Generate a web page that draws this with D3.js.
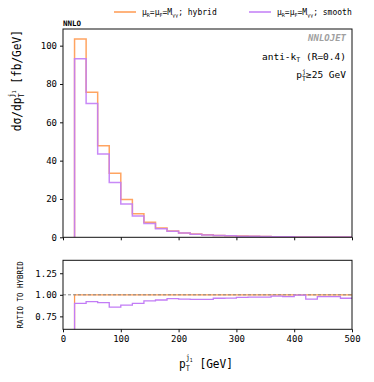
<!DOCTYPE html>
<html>
<head>
<meta charset="utf-8">
<script src="https://cdn.jsdelivr.net/npm/d3@7"></script>
<style>
  body { margin: 0; background: #fff; }
  text { font-family: "DejaVu Sans Mono", monospace; }
</style>
</head>
<body>
<svg id="chart" width="374" height="382"></svg>
<script>
// bin edges in pT [GeV]
const binEdges = [20, 40, 60, 80, 100, 120, 140, 160, 180, 200, 220, 240, 260, 280,
  300, 320, 340, 360, 380, 400, 420, 440, 460, 480, 500];
// dσ/dpT [fb/GeV]
const hybrid = [103.5, 75.7, 47.8, 33.4, 19.7, 12.3, 7.8, 4.8, 3.3, 2.3, 1.7, 1.3,
  1.0, 0.78, 0.62, 0.5, 0.4, 0.32, 0.26, 0.21, 0.17, 0.14, 0.12, 0.1];
const smooth = [93.2, 69.8, 43.5, 28.6, 17.4, 11.1, 7.2, 4.5, 3.15, 2.19, 1.61, 1.23,
  0.96, 0.75, 0.6, 0.49, 0.39, 0.315, 0.255, 0.209, 0.162, 0.137, 0.118, 0.096];
// ratio to hybrid
const ratioHybrid = [1, 1, 1, 1, 1, 1, 1, 1, 1, 1, 1, 1, 1, 1, 1, 1, 1, 1, 1, 1, 1, 1, 1, 1];
const ratioSmooth = [0.90, 0.92, 0.91, 0.856, 0.88, 0.90, 0.93, 0.94, 0.955, 0.95, 0.947, 0.947,
  0.96, 0.962, 0.97, 0.973, 0.973, 0.985, 0.98, 0.996, 0.95, 0.98, 0.98, 0.96];

const xTicks = [0, 100, 200, 300, 400, 500];
const yTicks = [0, 20, 40, 60, 80, 100];
const rTicks = [0.75, 1.00, 1.25];

const orange = "#ff9a50";
const purple = "#c27cf6";

const svg = d3.select("#chart");
const left = 63, right = 352;
const main = { top: 29, bottom: 237.3 };
const rat = { top: 260.3, bottom: 329.3 };

const x = d3.scaleLinear().domain([0, 500]).range([left, right]);
const y = d3.scaleLinear().domain([0, 108.7]).range([main.bottom, main.top]);
const yr = d3.scaleLinear().domain([0.6, 1.4]).range([rat.bottom, rat.top]);

// step path starting from zero at the first edge
function stepPath(vals, ys, base) {
  let p = `M${x(binEdges[0])},${ys(base)}`;
  vals.forEach((v, i) => {
    p += `L${x(binEdges[i])},${ys(v)}L${x(binEdges[i + 1])},${ys(v)}`;
  });
  return p;
}

// clip regions
const defs = svg.append("defs");
defs.append("clipPath").attr("id", "clipMain").append("rect")
  .attr("x", left).attr("y", main.top).attr("width", right - left).attr("height", main.bottom - main.top);
defs.append("clipPath").attr("id", "clipRat").append("rect")
  .attr("x", left).attr("y", rat.top).attr("width", right - left).attr("height", rat.bottom - rat.top);

// main histogram
const gm = svg.append("g").attr("clip-path", "url(#clipMain)");
[[hybrid, orange], [smooth, purple]].forEach(([vals, c]) => {
  gm.append("path").attr("d", stepPath(vals, y, 0))
    .attr("fill", "none").attr("stroke", c).attr("stroke-width", 1.5).attr("stroke-opacity", 0.9);
});

// ratio
const gr = svg.append("g").attr("clip-path", "url(#clipRat)");
gr.append("path").attr("d", stepPath(ratioHybrid, yr, 0))
  .attr("fill", "none").attr("stroke", orange).attr("stroke-width", 1.3);
gr.append("line").attr("x1", left).attr("x2", right).attr("y1", yr(1)).attr("y2", yr(1))
  .attr("stroke", "#888").attr("stroke-width", 1).attr("stroke-dasharray", "3,2");
gr.append("path").attr("d", stepPath(ratioSmooth, yr, 0))
  .attr("fill", "none").attr("stroke", purple).attr("stroke-width", 1.3);

// frames
[main, rat].forEach(p => {
  svg.append("rect").attr("x", left).attr("y", p.top)
    .attr("width", right - left).attr("height", p.bottom - p.top)
    .attr("fill", "none").attr("stroke", "#111").attr("stroke-width", 1);
});

// axes
const axisStyle = g => {
  g.select(".domain").remove();
  g.selectAll("text").style("font-family", "DejaVu Sans Mono").style("font-size", "9px").attr("fill", "#000");
  g.selectAll("line").attr("stroke", "#111");
};
svg.append("g").attr("transform", `translate(0,${main.bottom})`)
  .call(d3.axisBottom(x).tickValues(xTicks).tickSize(3).tickFormat(""))
  .call(axisStyle);
svg.append("g").attr("transform", `translate(0,${rat.bottom})`)
  .call(d3.axisBottom(x).tickValues(xTicks).tickSize(3).tickPadding(3).tickFormat(d3.format("d")))
  .call(axisStyle);
svg.append("g").attr("transform", `translate(${left},0)`)
  .call(d3.axisLeft(y).tickValues(yTicks).tickSize(3).tickPadding(3).tickFormat(d3.format("d")))
  .call(axisStyle);
svg.append("g").attr("transform", `translate(${left},0)`)
  .call(d3.axisLeft(yr).tickValues(rTicks).tickSize(3).tickPadding(3).tickFormat(d3.format(".2f")))
  .call(axisStyle);

// y label main (top aligned, condensed)
const yl = svg.append("text")
  .attr("transform", `translate(21,${main.top + 1}) rotate(-90) scale(0.86,1)`)
  .attr("text-anchor", "end").attr("font-size", 13).attr("fill", "#000");
yl.append("tspan").text("dσ/dp");
yl.append("tspan").attr("font-size", 8).attr("dy", 3).text("T");
yl.append("tspan").attr("font-size", 8).attr("dx", -4.8).attr("dy", -10).text("j");
yl.append("tspan").attr("font-size", 5.5).attr("dy", 1.5).text("1");
yl.append("tspan").attr("dy", 5.5).text(" [fb/GeV]");

// ratio y label
svg.append("text")
  .attr("transform", `translate(23,${(rat.top + rat.bottom) / 2}) rotate(-90) scale(0.9,1)`)
  .attr("text-anchor", "middle").attr("font-size", 8.3).attr("fill", "#000")
  .text("RATIO TO HYBRID");

// x label
const xl = svg.append("text")
  .attr("transform", "translate(206,368) scale(0.86,1)")
  .attr("text-anchor", "middle").attr("font-size", 13).attr("fill", "#000");
xl.append("tspan").text("p");
xl.append("tspan").attr("font-size", 8).attr("dy", 3).text("T");
xl.append("tspan").attr("font-size", 8).attr("dx", -4.8).attr("dy", -11).text("j");
xl.append("tspan").attr("font-size", 5.5).attr("dy", 1.5).text("1");
xl.append("tspan").attr("dy", 6.5).text(" [GeV]");

// annotations
svg.append("text").attr("x", left).attr("y", 26).attr("font-size", 7.5).attr("font-weight", "bold")
  .attr("fill", "#000").text("NNLO");
svg.append("text").attr("x", 346).attr("y", 41).attr("text-anchor", "end")
  .attr("font-size", 9).attr("font-style", "italic").attr("font-weight", "bold")
  .attr("fill", "#a0a0a0").text("NNLOJET");
const ak = svg.append("text").attr("x", 346).attr("y", 60).attr("text-anchor", "end")
  .attr("font-size", 9.5).attr("fill", "#000");
ak.append("tspan").text("anti-k");
ak.append("tspan").attr("font-size", 6.5).attr("dy", 2).text("T");
ak.append("tspan").attr("dy", -2).text(" (R=0.4)");
const pt = svg.append("text").attr("x", 346).attr("y", 78).attr("text-anchor", "end")
  .attr("font-size", 9.5).attr("fill", "#000");
pt.append("tspan").text("p");
pt.append("tspan").attr("font-size", 6.5).attr("dy", 2.5).text("T");
pt.append("tspan").attr("font-size", 6.5).attr("dx", -3.9).attr("dy", -7).text("j");
pt.append("tspan").attr("dy", 4.5).text("≥25 GeV");

// legend
const legend = [
  { label: "hybrid", color: orange, x0: 114 },
  { label: "smooth", color: purple, x0: 249 }
];
legend.forEach(l => {
  svg.append("line").attr("x1", l.x0).attr("x2", l.x0 + 22).attr("y1", 12).attr("y2", 12)
    .attr("stroke", l.color).attr("stroke-width", 1.5);
  const t = svg.append("text").attr("x", l.x0 + 28).attr("y", 15).attr("font-size", 8).attr("fill", "#000");
  t.append("tspan").text("μ");
  t.append("tspan").attr("font-size", 5).attr("dy", 1.5).text("R");
  t.append("tspan").attr("dy", -1.5).text("=μ");
  t.append("tspan").attr("font-size", 5).attr("dy", 1.5).text("F");
  t.append("tspan").attr("dy", -1.5).text("=M");
  t.append("tspan").attr("font-size", 5).attr("dy", 1.5).text("γγ");
  t.append("tspan").attr("dy", -1.5).text("; " + l.label);
});
</script>
</body>
</html>
